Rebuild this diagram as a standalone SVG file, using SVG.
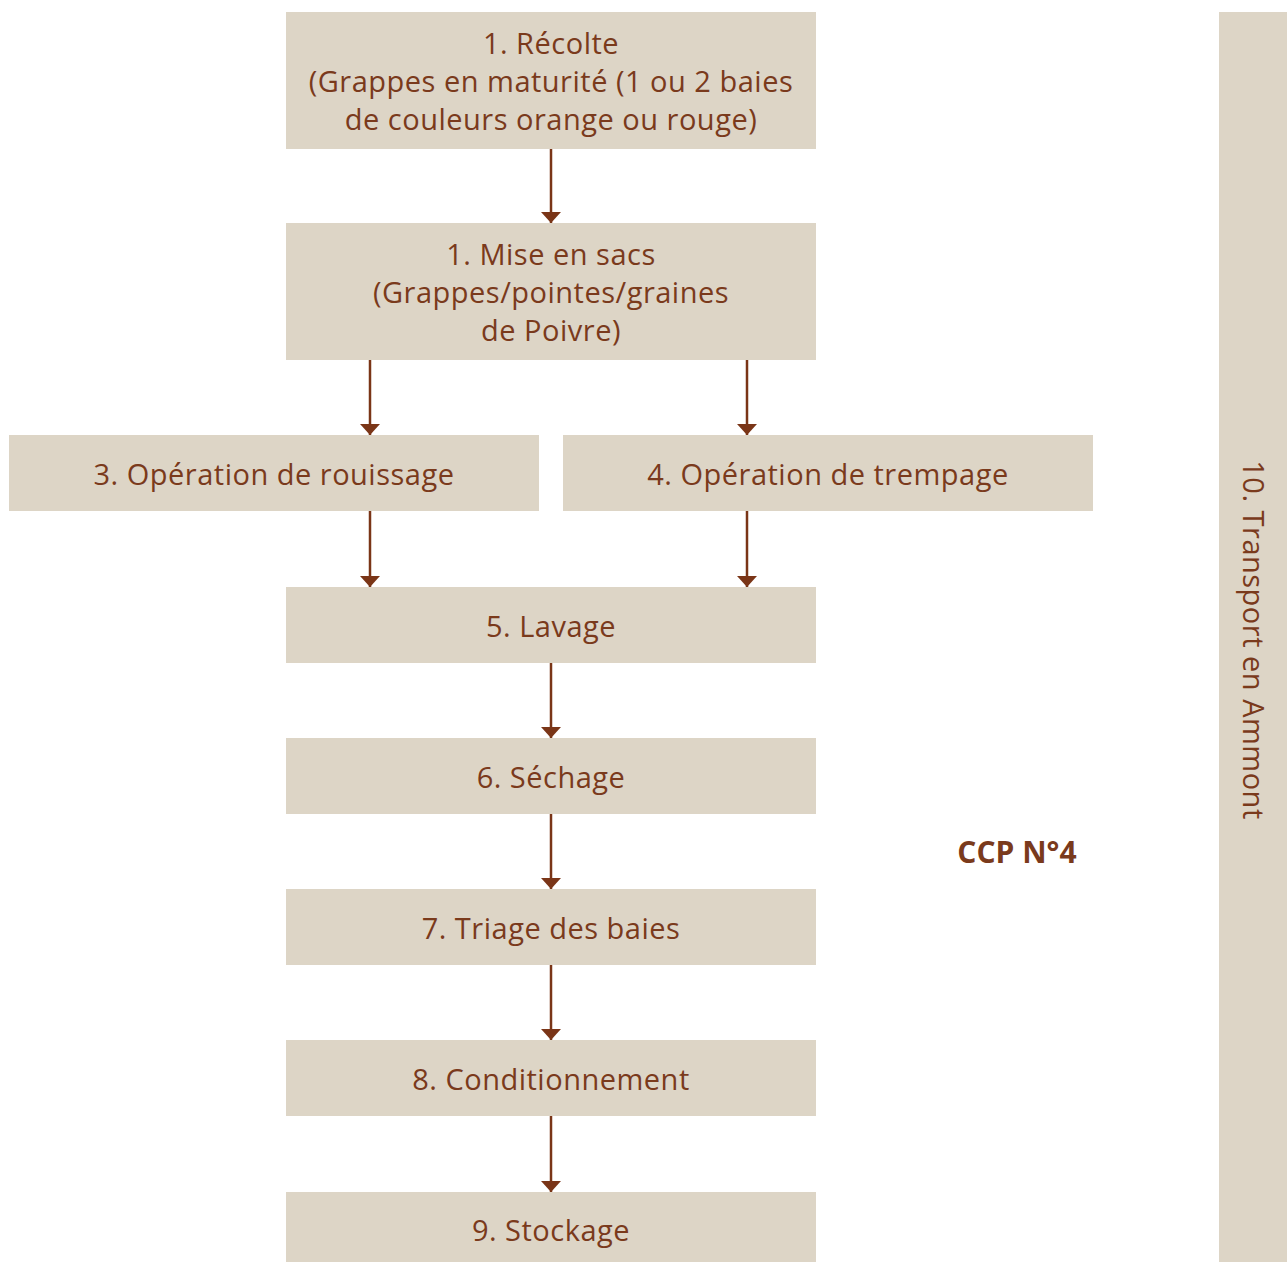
<svg xmlns="http://www.w3.org/2000/svg" width="1287" height="1262" viewBox="0 0 1287 1262">
<defs>
<style>
.box{fill:#ddd5c6;}
.t{font-family:"Open Sans",Lato,sans-serif;font-size:29px;letter-spacing:0.5px;fill:#7a3a1c;text-anchor:middle;}
.b{font-weight:bold;letter-spacing:0;font-size:30px;}
.c{stroke:#7a3517;stroke-width:2.5;fill:none;}
</style>
<marker id="a" viewBox="0 0 20 11" refX="10" refY="11" markerWidth="20" markerHeight="11" markerUnits="userSpaceOnUse" orient="0">
<path d="M0,0 L20,0 L10,11 Z" fill="#7a3517"/>
</marker>
</defs>
<rect width="1287" height="1262" fill="#ffffff"/>
<g id="connectors">
<path class="c" d="M551,149 V223" marker-end="url(#a)"/>
<path class="c" d="M370,360 V435" marker-end="url(#a)"/>
<path class="c" d="M747,360 V435" marker-end="url(#a)"/>
<path class="c" d="M370,511 V587" marker-end="url(#a)"/>
<path class="c" d="M747,511 V587" marker-end="url(#a)"/>
<path class="c" d="M551,663 V738" marker-end="url(#a)"/>
<path class="c" d="M551,814 V889" marker-end="url(#a)"/>
<path class="c" d="M551,965 V1040" marker-end="url(#a)"/>
<path class="c" d="M551,1116 V1192" marker-end="url(#a)"/>
</g>
<g id="n1"><rect class="box" x="286" y="12" width="530" height="137"/>
<text class="t" x="551" y="54">1. Récolte</text>
<text class="t" x="551" y="92">(Grappes en maturité (1 ou 2 baies</text>
<text class="t" x="551" y="130">de couleurs orange ou rouge)</text></g>
<g id="n2"><rect class="box" x="286" y="223" width="530" height="137"/>
<text class="t" x="551" y="265">1. Mise en sacs</text>
<text class="t" x="551" y="303">(Grappes/pointes/graines</text>
<text class="t" x="551" y="341">de Poivre)</text></g>
<g id="n3"><rect class="box" x="9" y="435" width="530" height="76"/>
<text class="t" x="274" y="485">3. Opération de rouissage</text></g>
<g id="n4"><rect class="box" x="563" y="435" width="530" height="76"/>
<text class="t" x="828" y="485">4. Opération de trempage</text></g>
<g id="n5"><rect class="box" x="286" y="587" width="530" height="76"/>
<text class="t" x="551" y="637">5. Lavage</text></g>
<g id="n6"><rect class="box" x="286" y="738" width="530" height="76"/>
<text class="t" x="551" y="788">6. Séchage</text></g>
<g id="n7"><rect class="box" x="286" y="889" width="530" height="76"/>
<text class="t" x="551" y="939">7. Triage des baies</text></g>
<g id="n8"><rect class="box" x="286" y="1040" width="530" height="76"/>
<text class="t" x="551" y="1090">8. Conditionnement</text></g>
<g id="n9"><rect class="box" x="286" y="1192" width="530" height="70"/>
<text class="t" x="551" y="1241">9. Stockage</text></g>
<g id="n10"><rect class="box" x="1219" y="12" width="68" height="1250"/>
<text class="t" transform="translate(1243,640) rotate(90)" x="0" y="0">10. Transport en Ammont</text></g>
<g id="ccp"><text class="t b" x="1017" y="863">CCP N°4</text></g>
</svg>
